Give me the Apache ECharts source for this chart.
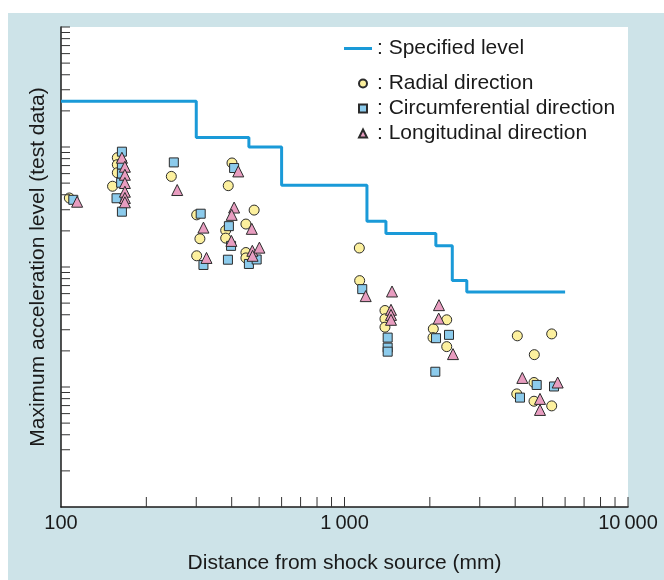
<!DOCTYPE html>
<html>
<head>
<meta charset="utf-8">
<script src="https://cdn.jsdelivr.net/npm/echarts@6/dist/echarts.min.js"></script>
<style>html,body{margin:0;padding:0;background:#fff}#c{width:664px;height:580px}</style>
</head>
<body>
<div id="c"></div>
<script>
// ---- data ----
const xTickLabels = {100: '100', 1000: '1\u2009000', 10000: '10\u2009000'};
const seriesNames = ['Specified level', 'Radial direction', 'Circumferential direction', 'Longitudinal direction'];
// specified level (step line): break-point distances and levels
const levelX = [100, 300, 460, 600, 1200, 1400, 2100, 2400, 2700, 6000];
const levelY = [2400, 1200, 1000, 480, 240, 190, 150, 77, 62, 62];
const radial = [
  [107, 376], [158, 814], [158, 712], [158, 610], [152, 471], [245, 569],
  [401, 736], [389, 476], [480, 298], [301, 272], [309, 172], [381, 202], [381, 174],
  [449, 228], [301, 124], [449, 132], [449, 119],
  [1128, 144], [1131, 77], [1389, 43.4], [1389, 37], [1389, 31.5],
  [2294, 36.3], [2057, 30.5], [2052, 25.8], [2294, 21.7],
  [4070, 26.7], [5381, 27.7], [4672, 18.6], [4661, 10.9], [4051, 8.76], [4661, 7.61], [5381, 6.96]
];
const circumferential = [
  [110.5, 363], [164, 914], [164, 712], [164, 599], [163, 504], [157, 374], [164, 289],
  [250, 744], [408, 668], [311, 278], [391, 219], [398, 150], [318, 104], [388, 115], [460, 106], [490, 115.5],
  [1155, 65.4], [1420, 25.8], [1420, 21.3], [1420, 19.7],
  [2103, 25.5], [2337, 27.2], [2091, 13.4],
  [4764, 10.4], [5483, 10.1], [4159, 8.16]
];
const longitudinal = [
  [114, 350], [164, 814], [168, 685], [168, 587], [168, 501], [168, 424], [168, 376], [168, 346],
  [257, 438], [422, 626], [408, 313], [400, 272], [318, 213], [399, 165], [471, 208], [326, 119],
  [473, 136.5], [501, 145], [474, 124],
  [1188, 57.2], [1471, 62.5], [1459, 44], [1459, 39.9], [1459, 36.3],
  [2154, 48.1], [2149, 37.2], [2414, 18.8],
  [4238, 11.9], [5649, 10.9], [4893, 7.96], [4893, 6.44]
];
const xMin = 100, xMax = 10000, yMin = 1, yMax = 10000;

// tick positions on the log axes (1..9 x decade)
const xTickVals = [], yTickVals = [];
for (let d = xMin; d < xMax; d *= 10) for (let k = 2; k <= 10; k++) xTickVals.push(k * d);
for (let d = yMin; d < yMax; d *= 10) for (let k = 2; k <= 10; k++) yTickVals.push(k * d);

const FONT = 'Liberation Sans, Arial, Helvetica, sans-serif';
const stroke = '#2b2b2b';
const lineColor = '#1a9ad8';

const chart = echarts.init(document.getElementById('c'), null, {renderer: 'canvas'});
chart.setOption({
  animation: false,
  backgroundColor: '#ffffff',
  graphic: [{
    type: 'rect', z: -10, silent: true,
    shape: {x: 8, y: 13, width: 656, height: 567},
    style: {fill: '#cde3e8'}
  }],
  grid: {left: 61, right: 36, top: 27, bottom: 73, show: true, backgroundColor: '#ffffff', borderWidth: 0},
  xAxis: {
    type: 'log', logBase: 10, min: xMin, max: xMax,
    name: 'Distance from shock source (mm)', nameLocation: 'middle', nameGap: 46,
    nameTextStyle: {fontFamily: FONT, fontSize: 21, color: '#1a1a1a'},
    axisLine: {lineStyle: {color: '#1a1a1a', width: 1.5}},
    axisTick: {show: false},
    splitLine: {show: false},
    axisLabel: {fontFamily: FONT, fontSize: 20, color: '#1a1a1a', margin: 6,
      formatter: v => xTickLabels[Math.round(v)] || ''}
  },
  yAxis: {
    type: 'log', logBase: 10, min: yMin, max: yMax,
    name: 'Maximum acceleration level (test data)', nameLocation: 'middle', nameGap: 12,
    nameTextStyle: {fontFamily: FONT, fontSize: 21, color: '#1a1a1a'},
    axisLine: {show: true, lineStyle: {color: '#1a1a1a', width: 1.5}},
    axisTick: {show: false},
    splitLine: {show: false},
    axisLabel: {show: false}
  },
  legend: [{
    data: [{name: seriesNames[0], icon: 'rect', itemStyle: {color: lineColor, borderWidth: 0}}],
    orient: 'vertical', left: 339, top: 33,
    itemWidth: 28, itemHeight: 3, formatter: ': {name}',
    textStyle: {fontFamily: FONT, fontSize: 21, color: '#1a1a1a'}
  }, {
    data: seriesNames.slice(1), orient: 'vertical', left: 353, top: 68,
    itemWidth: 8, itemHeight: 8, itemGap: 4, formatter: ': {name}',
    textStyle: {fontFamily: FONT, fontSize: 21, color: '#1a1a1a', padding: [0, 0, 0, 5]}
  }],
  series: [
    {
      name: seriesNames[0], type: 'line', step: 'end', symbol: 'none',
      data: levelX.map((x, i) => [x, levelY[i]]),
      lineStyle: {color: lineColor, width: 3}, itemStyle: {color: lineColor}, z: 2
    },
    {
      name: seriesNames[1], type: 'scatter', symbol: 'circle', symbolSize: 10, data: radial,
      itemStyle: {color: '#fcf09e', borderColor: stroke, borderWidth: 1, opacity: 1}, z: 3
    },
    {
      name: seriesNames[2], type: 'scatter', symbol: 'rect', symbolSize: 9, data: circumferential,
      itemStyle: {color: '#8ccbec', borderColor: stroke, borderWidth: 1, opacity: 1}, z: 4
    },
    {
      name: seriesNames[3], type: 'scatter', symbol: 'triangle', symbolSize: 11, data: longitudinal,
      itemStyle: {color: '#e89dc0', borderColor: stroke, borderWidth: 1, opacity: 1}, z: 5
    },
    {
      type: 'custom', silent: true, clip: false, z: 6,
      data: yTickVals.map(v => [xMin, v]),
      renderItem: (params, api) => {
        const p = api.coord([api.value(0), api.value(1)]);
        return {type: 'line', shape: {x1: p[0], y1: p[1], x2: p[0] + 9, y2: p[1]},
          style: {stroke: '#333', lineWidth: 1}};
      }
    },
    {
      type: 'custom', silent: true, clip: false, z: 6,
      data: xTickVals.map(v => [v, yMin]),
      renderItem: (params, api) => {
        const p = api.coord([api.value(0), api.value(1)]);
        return {type: 'line', shape: {x1: p[0], y1: p[1], x2: p[0], y2: p[1] - 10},
          style: {stroke: '#333', lineWidth: 1}};
      }
    }
  ]
});
</script>
</body>
</html>
